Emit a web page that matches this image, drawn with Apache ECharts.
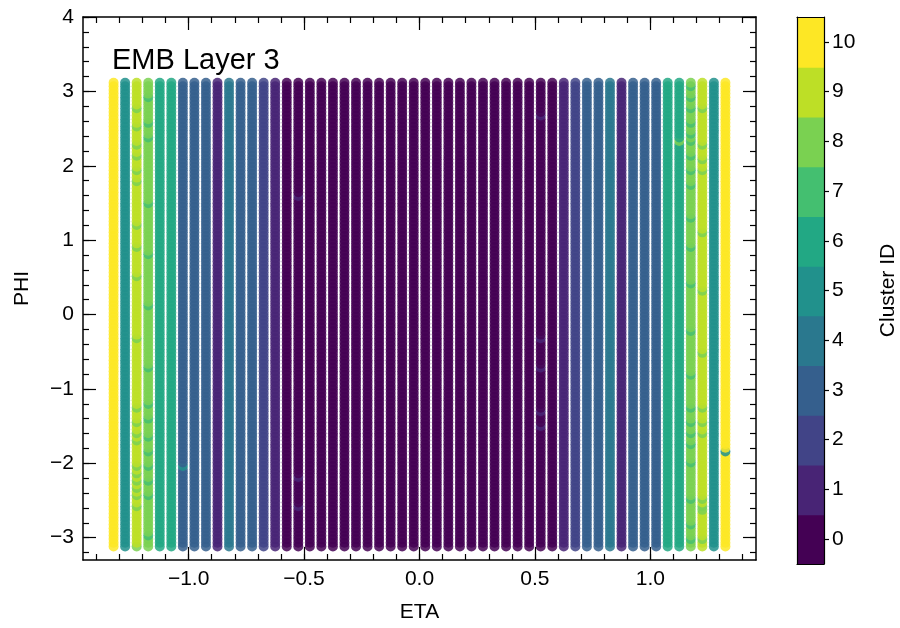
<!DOCTYPE html>
<html>
<head>
<meta charset="utf-8">
<script src="https://cdn.jsdelivr.net/npm/echarts@6/dist/echarts.min.js"></script>
<style>
  html, body { margin: 0; padding: 0; background: #ffffff; }
  #chart { width: 900px; height: 628px; }
</style>
</head>
<body>
<div id="chart"></div>
<script>
// EMB layer 3 cell centres in eta (one column per cell)
const etaCells = [
  -1.325, -1.275, -1.225, -1.175, -1.125, -1.075, -1.025, -0.975, -0.925,
  -0.875, -0.825, -0.775, -0.725, -0.675, -0.625, -0.575, -0.525, -0.475,
  -0.425, -0.375, -0.325, -0.275, -0.225, -0.175, -0.125, -0.075, -0.025,
   0.025,  0.075,  0.125,  0.175,  0.225,  0.275,  0.325,  0.375,  0.425,
   0.475,  0.525,  0.575,  0.625,  0.675,  0.725,  0.775,  0.825,  0.875,
   0.925,  0.975,  1.025,  1.075,  1.125,  1.175,  1.225,  1.275,  1.325
];

// dominant cluster ID of each eta column
const columnCluster = [
  10, 5, 9, 8, 6, 6, 3, 3, 3, 1, 4, 3, 3, 2, 1,
  0, 0, 0, 0, 0, 0, 0, 0, 0, 0, 0, 0,
  0, 0, 0, 0, 0, 0, 0, 0, 0, 0, 0, 0,
  1, 2, 3, 3, 4, 1, 3, 3, 3, 6, 6, 8, 9, 5, 10
];

// phi cell centres
const phiCells = [
  -3.117, -3.068, -3.019, -2.970, -2.921, -2.872, -2.823, -2.774,
  -2.724, -2.675, -2.626, -2.577, -2.528, -2.479, -2.430, -2.381,
  -2.332, -2.283, -2.234, -2.184, -2.135, -2.086, -2.037, -1.988,
  -1.939, -1.890, -1.841, -1.792, -1.743, -1.694, -1.644, -1.595,
  -1.546, -1.497, -1.448, -1.399, -1.350, -1.301, -1.252, -1.203,
  -1.154, -1.105, -1.055, -1.006, -0.957, -0.908, -0.859, -0.810,
  -0.761, -0.712, -0.663, -0.614, -0.565, -0.515, -0.466, -0.417,
  -0.368, -0.319, -0.270, -0.221, -0.172, -0.123, -0.074, -0.025,
   0.025,  0.074,  0.123,  0.172,  0.221,  0.270,  0.319,  0.368,
   0.417,  0.466,  0.515,  0.565,  0.614,  0.663,  0.712,  0.761,
   0.810,  0.859,  0.908,  0.957,  1.006,  1.055,  1.105,  1.154,
   1.203,  1.252,  1.301,  1.350,  1.399,  1.448,  1.497,  1.546,
   1.595,  1.644,  1.694,  1.743,  1.792,  1.841,  1.890,  1.939,
   1.988,  2.037,  2.086,  2.135,  2.184,  2.234,  2.283,  2.332,
   2.381,  2.430,  2.479,  2.528,  2.577,  2.626,  2.675,  2.724,
   2.774,  2.823,  2.872,  2.921,  2.970,  3.019,  3.068,  3.117
];

// cells assigned to a different cluster than the rest of their column: [eta, phi, cluster]
const strayCells = [
  [-1.225, 2.75, 8], [-1.225, 2.51, 8], [-1.225, 2.26, 8], [-1.225, 2.15, 8],
  [-1.225, 1.95, 8], [-1.225, 1.79, 8], [-1.225, 1.20, 8], [-1.225, 0.90, 8],
  [-1.225, 0.50, 8], [-1.225, -0.30, 8], [-1.225, -1.23, 8], [-1.225, -1.47, 8],
  [-1.225, -1.58, 8], [-1.225, -1.70, 8], [-1.225, -2.03, 8], [-1.225, -2.14, 8],
  [-1.225, -2.25, 8], [-1.225, -2.34, 8], [-1.225, -2.43, 8], [-1.225, -2.57, 8],
  [-1.225, -3.10, 8],
  [-1.175, 2.90, 7], [-1.175, 2.60, 7], [-1.175, 2.40, 7], [-1.175, 1.50, 7],
  [-1.175, 0.80, 7], [-1.175, 0.10, 7], [-1.175, -0.70, 7], [-1.175, -1.18, 7],
  [-1.175, -1.40, 7], [-1.175, -1.63, 7], [-1.175, -1.85, 7], [-1.175, -2.05, 7],
  [-1.175, -2.21, 7], [-1.175, -2.44, 7], [-1.175, -2.97, 7],
  [-1.025, -2.04, 5],
  [-0.525, 1.60, 1], [-0.525, -2.17, 1], [-0.525, -2.56, 1],
  [0.525, 2.66, 1], [0.525, -0.33, 1], [0.525, -0.69, 1], [0.525, -1.31, 1],
  [0.525, -1.50, 1],
  [1.125, 2.31, 8],
  [1.175, 3.09, 7], [1.175, 2.93, 7], [1.175, 2.75, 7], [1.175, 2.58, 7],
  [1.175, 2.44, 7], [1.175, 2.31, 7], [1.175, 2.12, 7], [1.175, 1.95, 7],
  [1.175, 1.72, 7], [1.175, 1.30, 7], [1.175, 0.90, 7], [1.175, 0.40, 7],
  [1.175, -0.20, 7], [1.175, -0.80, 7], [1.175, -1.27, 7], [1.175, -1.47, 7],
  [1.175, -1.58, 7], [1.175, -1.76, 7], [1.175, -1.98, 7], [1.175, -2.48, 7],
  [1.175, -2.84, 7], [1.175, -3.02, 7],
  [1.225, 2.75, 8], [1.225, 2.26, 8], [1.225, 2.08, 8], [1.225, 1.92, 8],
  [1.225, 1.10, 8], [1.225, 0.30, 8], [1.225, -0.50, 8], [1.225, -1.23, 8],
  [1.225, -1.47, 8], [1.225, -1.58, 8], [1.225, -2.48, 8], [1.225, -2.57, 8],
  [1.225, -2.65, 8], [1.225, -3.02, 8],
  [1.325, -1.83, 5]
];

// colour bar
const clusterIds = [0, 1, 2, 3, 4, 5, 6, 7, 8, 9, 10];
const clusterColors = [
  '#440154', '#482475', '#414487', '#355f8d', '#2a788e', '#21918c',
  '#22a884', '#44bf70', '#7ad151', '#bddf26', '#fde725'
];
const clusterRange = [-0.5, 10.5];

// tick positions
const etaMajorTicks = [-1.0, -0.5, 0.0, 0.5, 1.0];
const etaMinorTicks = [
  -1.4, -1.3, -1.2, -1.1, -1.0, -0.9, -0.8, -0.7, -0.6, -0.5, -0.4, -0.3, -0.2, -0.1, 0.0,
   0.1,  0.2,  0.3,  0.4,  0.5,  0.6,  0.7,  0.8,  0.9,  1.0,  1.1,  1.2,  1.3,  1.4
];
const phiMajorTicks = [-3, -2, -1, 0, 1, 2, 3, 4];
const phiMinorTicks = [
  -3.2, -3.0, -2.8, -2.6, -2.4, -2.2, -2.0, -1.8, -1.6, -1.4, -1.2, -1.0, -0.8, -0.6,
  -0.4, -0.2, 0.0, 0.2, 0.4, 0.6, 0.8, 1.0, 1.2, 1.4, 1.6, 1.8, 2.0, 2.2, 2.4, 2.6,
  2.8, 3.0, 3.2, 3.4, 3.6, 3.8, 4.0
];

const etaRange = [-1.4575, 1.4575];
const phiRange = [-3.3, 4.0];

// ---- build the point list column by column, phi ascending ----
const points = [];
etaCells.forEach((eta, k) => {
  const ids = phiCells.map(() => columnCluster[k]);
  strayCells.forEach(([e, p, c]) => {
    if (Math.abs(e - eta) > 1e-6) return;
    let best = 0;
    phiCells.forEach((v, i) => {
      if (Math.abs(v - p) < Math.abs(phiCells[best] - p)) best = i;
    });
    ids[best] = c;
  });
  phiCells.forEach((phi, i) => points.push([eta, phi, ids[i]]));
});

const FONT = '"Liberation Sans", Arial, Helvetica, sans-serif';
const INK = '#000000';
const minus = (s) => s.replace('-', '\u2212');
const fmtEta = (v) => minus(Number(v).toFixed(1));
const fmtPhi = (v) => minus(String(Math.round(v)));

function valueAxis(opts) {
  const base = {
    type: 'value',
    gridIndex: opts.grid || 0,
    min: opts.range[0],
    max: opts.range[1],
    position: opts.position,
    splitLine: { show: false },
    splitArea: { show: false },
    axisLine: { show: opts.line, onZero: false, lineStyle: { color: INK, width: opts.lineWidth || 1.5 } },
    axisTick: opts.ticks ? {
      show: true, inside: !opts.outward, length: opts.len,
      customValues: opts.ticks,
      lineStyle: { color: INK, width: 1.2 }
    } : { show: false },
    axisLabel: { show: false },
    z: 5
  };
  if (opts.labels) {
    base.axisLabel = {
      show: true, customValues: opts.ticks, formatter: opts.fmt,
      color: INK, fontFamily: FONT, fontSize: 21, margin: opts.margin
    };
  }
  if (opts.name) {
    Object.assign(base, {
      name: opts.name, nameLocation: 'middle', nameGap: opts.nameGap,
      nameTextStyle: { color: INK, fontFamily: FONT, fontSize: 21 }
    });
  }
  return base;
}

const xAxes = [
  valueAxis({ range: etaRange, position: 'bottom', line: true, len: 13, ticks: etaMajorTicks,
              labels: true, fmt: fmtEta, margin: 9, name: 'ETA', nameGap: 42 }),
  valueAxis({ range: etaRange, position: 'bottom', line: false, len: 6, ticks: etaMinorTicks }),
  valueAxis({ range: etaRange, position: 'top', line: true, len: 13, ticks: etaMajorTicks }),
  valueAxis({ range: etaRange, position: 'top', line: false, len: 6, ticks: etaMinorTicks }),
  // colour bar frame
  valueAxis({ grid: 1, range: [0, 1], position: 'bottom', line: true, lineWidth: 1.2 }),
  valueAxis({ grid: 1, range: [0, 1], position: 'top', line: true, lineWidth: 1.2 })
];

const yAxes = [
  valueAxis({ range: phiRange, position: 'left', line: true, len: 13, ticks: phiMajorTicks,
              labels: true, fmt: fmtPhi, margin: 9, name: 'PHI', nameGap: 50 }),
  valueAxis({ range: phiRange, position: 'left', line: false, len: 6, ticks: phiMinorTicks }),
  valueAxis({ range: phiRange, position: 'right', line: true, len: 13, ticks: phiMajorTicks }),
  valueAxis({ range: phiRange, position: 'right', line: false, len: 6, ticks: phiMinorTicks }),
  // colour bar scale
  valueAxis({ grid: 1, range: clusterRange, position: 'right', line: true, lineWidth: 1.2,
              len: 5, outward: true, ticks: clusterIds, labels: true, fmt: (v) => String(v),
              margin: 8, name: 'Cluster ID', nameGap: 54 }),
  valueAxis({ grid: 1, range: clusterRange, position: 'left', line: true, lineWidth: 1.2 })
];

const chart = echarts.init(document.getElementById('chart'), null, { renderer: 'canvas' });
chart.setOption({
  animation: false,
  backgroundColor: '#ffffff',
  title: {
    text: 'EMB Layer 3', left: 107, top: 41,
    textStyle: { color: INK, fontFamily: FONT, fontSize: 29, fontWeight: 'normal' }
  },
  grid: [
    { left: 83, top: 17, width: 673, height: 546 },
    { left: 797, top: 17, width: 27, height: 547 }
  ],
  xAxis: xAxes,
  yAxis: yAxes,
  series: [
    {
      type: 'scatter',
      xAxisIndex: 0, yAxisIndex: 0,
      data: points,
      symbol: 'circle',
      symbolSize: 10,
      progressive: 0,
      large: false,
      silent: true,
      itemStyle: {
        color: (p) => clusterColors[p.value[2]],
        opacity: 0.85
      }
    },
    {
      // colour bar blocks, one per cluster ID, overlapping slightly so no seam shows
      type: 'custom',
      xAxisIndex: 4, yAxisIndex: 4,
      silent: true,
      clip: true,
      data: clusterIds.map((id) => [1, id]),
      renderItem: (params, api) => {
        const id = api.value(1);
        const lo = api.coord([0, id - 0.5]);
        const hi = api.coord([1, id + 0.5]);
        return {
          type: 'rect',
          shape: {
            x: lo[0],
            y: hi[1] - 1,
            width: hi[0] - lo[0],
            height: lo[1] - hi[1] + 2
          },
          style: { fill: clusterColors[id], stroke: null }
        };
      }
    }
  ]
});
</script>
</body>
</html>
